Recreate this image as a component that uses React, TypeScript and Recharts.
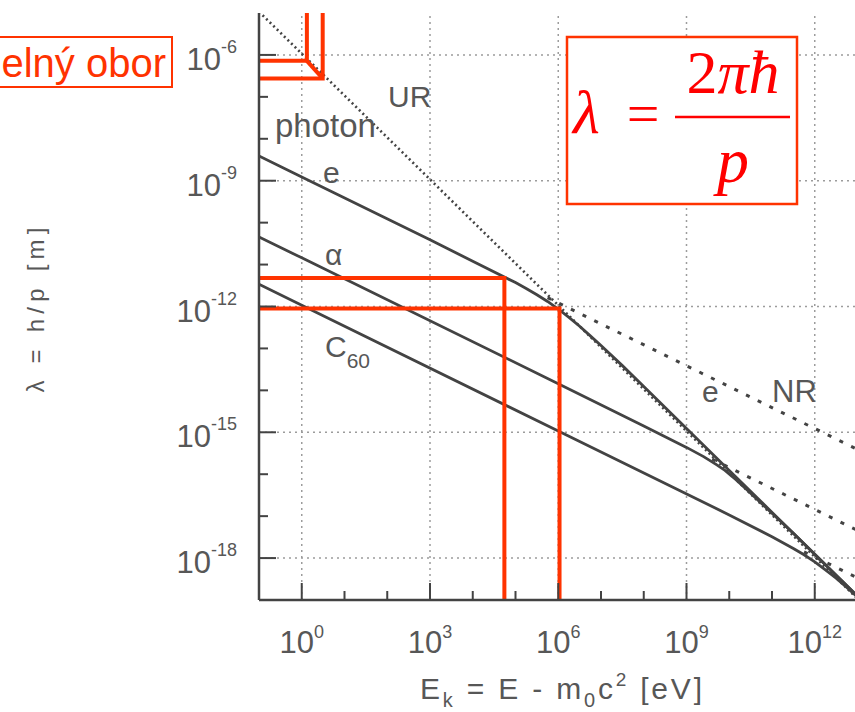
import React from 'react';
import { LineChart, Line, XAxis, YAxis, ReferenceLine } from 'recharts';

// Axis ranges (log10 values)
const X_DOMAIN: [number, number] = [-1, 13];
const Y_DOMAIN: [number, number] = [-19, -5];
const xTicks = [0, 1, 2, 3, 4, 5, 6, 7, 8, 9, 10, 11, 12];
const yTicks = [-6, -7, -8, -9, -10, -11, -12, -13, -14, -15, -16, -17, -18];
const xGrid = [0, 3, 6, 9, 12];
const yGrid = [-6, -9, -12, -15, -18];

// log10(E_k [eV]) and log10(lambda [m])
const photonLogE = [-1, 13];
const photonLogL = [-4.97, -18.97];

const electronLogE = [-1, 0, 3, 4, 5, 5.25, 5.5, 5.75, 6, 6.25, 6.5, 6.75, 7, 7.5, 8, 10, 13];
const electronLogL = [-8.41, -8.91, -10.41, -10.92, -11.43, -11.57, -11.72, -11.88, -12.06, -12.26, -12.47, -12.7, -12.93, -13.41, -13.91, -15.91, -18.91];
const electronNRLogE = [5.75, 13];
const electronNRLogL = [-11.79, -15.41];

const alphaLogE = [-1, 0, 6, 8, 9, 9.4, 9.7, 9.9, 10.1, 10.4, 10.75, 11, 11.5, 12, 13];
const alphaLogL = [-10.34, -10.84, -13.84, -14.85, -15.36, -15.58, -15.77, -15.91, -16.08, -16.36, -16.69, -16.93, -17.41, -17.91, -18.91];
const alphaNRLogE = [9.6, 13];
const alphaNRLogL = [-15.64, -17.34];

const c60LogE = [-1, 0, 6, 10, 11, 11.5, 11.75, 12, 12.25, 12.5, 12.75, 13];
const c60LogL = [-11.47, -11.97, -14.97, -16.97, -17.49, -17.77, -17.92, -18.09, -18.28, -18.48, -18.7, -18.93];
const c60NRLogE = [11.75, 13];
const c60NRLogL = [-17.85, -18.47];

// red highlight markings
const visInnerLogE = [-1, 0.12, 0.12];
const visInnerLogL = [-6.14, -6.14, -5];
const visOuterLogE = [-1, 0.49, 0.49];
const visOuterLogL = [-6.56, -6.56, -5];
const visDiagLogE = [0.12, 0.49];
const visDiagLogL = [-6.14, -6.56];
const markALogE = [-1, 4.74, 4.74];
const markALogL = [-11.32, -11.32, -19];
const markBLogE = [-1, 6.03, 6.03];
const markBLogL = [-12.05, -12.05, -19];

const zip = (xs: number[], ys: number[]) => xs.map((x, i) => ({ x, y: ys[i] }));

const INK = '#434343';
const TXT = '#575757';
const RED = '#ff3300';
const FONT = '"Liberation Sans", Arial, Helvetica, sans-serif';
const SERIF = '"Liberation Serif", "Times New Roman", serif';

const isMajor = (v: number) => Math.abs(v) % 3 === 0;

const BottomTick = (props: any) => {
  const { x, y, payload } = props;
  const v = payload.value;
  const major = isMajor(v);
  return (
    <g>
      <line x1={x} y1={y} x2={x} y2={y - (major ? 17 : 9)} stroke={INK} strokeWidth={2} />
      {major && (
        <text x={x} y={y + 53} textAnchor="middle" fontSize={31} fill={TXT} fontFamily={FONT}>
          10
          <tspan dy={-15} fontSize={18}>{v}</tspan>
        </text>
      )}
    </g>
  );
};

const TopTick = (props: any) => {
  const { x, y, payload } = props;
  const major = isMajor(payload.value);
  return <line x1={x} y1={y} x2={x} y2={y + (major ? 17 : 9)} stroke={INK} strokeWidth={2} />;
};

const LeftTick = (props: any) => {
  const { x, y, payload } = props;
  const v = payload.value;
  const major = isMajor(v);
  return (
    <g>
      <line x1={x} y1={y} x2={x + (major ? 17 : 9)} y2={y} stroke={INK} strokeWidth={2} />
      {major && (
        <text x={x - 22} y={y + 15} textAnchor="end" fontSize={31} fill={TXT} fontFamily={FONT}>
          10
          <tspan dy={-17} fontSize={18}>{String(v)}</tspan>
        </text>
      )}
    </g>
  );
};

const RightTick = (props: any) => {
  const { x, y, payload } = props;
  const major = isMajor(payload.value);
  return <line x1={x} y1={y} x2={x - (major ? 17 : 9)} y2={y} stroke={INK} strokeWidth={2} />;
};

const axisLine = { stroke: INK, strokeWidth: 2.5 };

export default function App() {
  return (
    <div style={{ position: 'absolute', left: 0, top: 0, width: 855, height: 712, overflow: 'hidden', background: '#fff' }}>
      <LineChart width={870} height={712} margin={{ top: 13, right: 12.5, bottom: 0, left: 0 }}>
        <XAxis
          dataKey="x"
          type="number"
          domain={X_DOMAIN}
          allowDataOverflow
          ticks={xTicks}
          interval={0}
          tickSize={0}
          tickMargin={0}
          tickLine={false}
          axisLine={axisLine}
          tick={BottomTick}
          height={112}
        />
        <XAxis
          xAxisId="top"
          orientation="top"
          dataKey="x"
          type="number"
          domain={X_DOMAIN}
          allowDataOverflow
          ticks={xTicks}
          interval={0}
          tickSize={0}
          tickMargin={0}
          tickLine={false}
          axisLine={axisLine}
          tick={TopTick}
          height={0}
        />
        <YAxis
          type="number"
          domain={Y_DOMAIN}
          allowDataOverflow
          ticks={yTicks}
          interval={0}
          tickSize={0}
          tickMargin={0}
          tickLine={false}
          axisLine={axisLine}
          tick={LeftTick}
          width={259}
        />
        <YAxis
          yAxisId="right"
          orientation="right"
          type="number"
          domain={Y_DOMAIN}
          allowDataOverflow
          ticks={yTicks}
          interval={0}
          tickSize={0}
          tickMargin={0}
          tickLine={false}
          axisLine={axisLine}
          tick={RightTick}
          width={0}
        />
        {xGrid.map((v) => (
          <ReferenceLine key={'gx' + v} x={v} stroke="#9c9c9c" strokeWidth={1.5} strokeDasharray="2 4" />
        ))}
        {yGrid.map((v) => (
          <ReferenceLine key={'gy' + v} y={v} stroke="#9c9c9c" strokeWidth={1.5} strokeDasharray="2 4" />
        ))}
        <Line data={zip(photonLogE, photonLogL)} dataKey="y" type="linear" dot={false} stroke={INK} strokeWidth={2.6} strokeDasharray="2 3" isAnimationActive={false} />
        <Line data={zip(electronNRLogE, electronNRLogL)} dataKey="y" type="linear" dot={false} stroke={INK} strokeWidth={3} strokeDasharray="4 9" isAnimationActive={false} />
        <Line data={zip(alphaNRLogE, alphaNRLogL)} dataKey="y" type="linear" dot={false} stroke={INK} strokeWidth={3} strokeDasharray="4 9" isAnimationActive={false} />
        <Line data={zip(c60NRLogE, c60NRLogL)} dataKey="y" type="linear" dot={false} stroke={INK} strokeWidth={3} strokeDasharray="4 9" isAnimationActive={false} />
        <Line data={zip(electronLogE, electronLogL)} dataKey="y" type="linear" dot={false} stroke={INK} strokeWidth={2.8} isAnimationActive={false} />
        <Line data={zip(alphaLogE, alphaLogL)} dataKey="y" type="linear" dot={false} stroke={INK} strokeWidth={2.8} isAnimationActive={false} />
        <Line data={zip(c60LogE, c60LogL)} dataKey="y" type="linear" dot={false} stroke={INK} strokeWidth={2.8} isAnimationActive={false} />
        <Line data={zip(visInnerLogE, visInnerLogL)} dataKey="y" type="linear" dot={false} stroke={RED} strokeWidth={4} isAnimationActive={false} />
        <Line data={zip(visOuterLogE, visOuterLogL)} dataKey="y" type="linear" dot={false} stroke={RED} strokeWidth={4} isAnimationActive={false} />
        <Line data={zip(visDiagLogE, visDiagLogL)} dataKey="y" type="linear" dot={false} stroke={RED} strokeWidth={4} isAnimationActive={false} />
        <Line data={zip(markALogE, markALogL)} dataKey="y" type="linear" dot={false} stroke={RED} strokeWidth={4} isAnimationActive={false} />
        <Line data={zip(markBLogE, markBLogL)} dataKey="y" type="linear" dot={false} stroke={RED} strokeWidth={4} isAnimationActive={false} />
      </LineChart>

      <svg width={855} height={712} style={{ position: 'absolute', left: 0, top: 0, pointerEvents: 'none' }}>
        {/* curve labels */}
        <g fill={TXT} fontFamily={FONT}>
          <text x={388} y={107} fontSize={30}>UR</text>
          <text x={275} y={137} fontSize={33}>photon</text>
          <text x={323} y={183} fontSize={30}>e</text>
          <text x={325} y={265} fontSize={30}>α</text>
          <text x={325} y={357} fontSize={30}>
            C<tspan fontSize={21} dy={11}>60</tspan>
          </text>
          <text x={702} y={402} fontSize={30}>e</text>
          <text x={772} y={402} fontSize={31}>NR</text>
        </g>

        {/* axis titles */}
        <text x={420} y={699} fontSize={30} fill={TXT} fontFamily={FONT} textLength={282} lengthAdjust="spacing">
          E<tspan fontSize={20} dy={8}>k</tspan>
          <tspan dy={-8}> = E - m</tspan>
          <tspan fontSize={20} dy={8}>0</tspan>
          <tspan dy={-8}>c</tspan>
          <tspan fontSize={19} dy={-13}>2</tspan>
          <tspan dy={13}> [eV]</tspan>
        </text>
        <text
          x={0}
          y={0}
          transform="translate(44,310) rotate(-90)"
          textAnchor="middle"
          fontSize={24}
          fill={TXT}
          fontFamily={FONT}
          textLength={165}
          lengthAdjust="spacing"
        >
          λ = h/p [m]
        </text>

        {/* visible range box (cut at the left edge in the original) */}
        <rect x={-30} y={37} width={202} height={50} fill="#fff" stroke={RED} strokeWidth={2} />
        <text x={166} y={77} textAnchor="end" fontSize={40} fill={RED} fontFamily={FONT}>
          elný obor
        </text>

        {/* formula box */}
        <rect x={567} y={37} width={230} height={167} fill="#fff" stroke={RED} strokeWidth={2.5} />
        <g fill="#ff0000" fontFamily={SERIF}>
          <text x={573} y={133} fontSize={62} fontStyle="italic">λ</text>
          <text x={643} y={133} fontSize={58} textAnchor="middle">=</text>
          <line x1={675} y1={117} x2={790} y2={117} stroke="#ff0000" strokeWidth={2.5} />
          <text x={733} y={93} fontSize={62} textAnchor="middle">
            2<tspan fontStyle="italic">πħ</tspan>
          </text>
          <text x={733} y={182} fontSize={64} textAnchor="middle" fontStyle="italic">p</text>
        </g>
      </svg>
    </div>
  );
}
